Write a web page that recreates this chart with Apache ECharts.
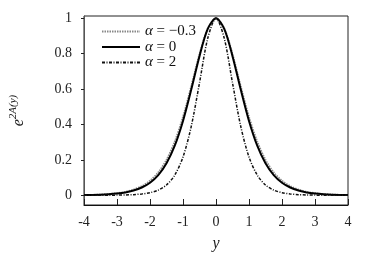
<!DOCTYPE html>
<html>
<head>
<meta charset="utf-8">
<script src="https://cdn.jsdelivr.net/npm/echarts@6/dist/echarts.min.js"></script>
<style>
html,body{margin:0;padding:0;background:#fff;}
#c{width:374px;height:257px;}
</style>
</head>
<body>
<div id="c"></div>
<script>
// sample positions along y
var yPos = [-4,-3.75,-3.5,-3.25,-3,-2.75,-2.5,-2.25,-2,-1.75,-1.5,-1.25,-1,-0.75,-0.5,-0.25,0,
            0.25,0.5,0.75,1,1.25,1.5,1.75,2,2.25,2.5,2.75,3,3.25,3.5,3.75,4];
// alpha = -0.3 (grey dotted)
var alphaM03 = [0.0019,0.003,0.0049,0.0078,0.0126,0.020,0.033,0.052,0.083,0.130,0.202,0.305,0.445,0.618,0.800,0.944,1,
                0.944,0.800,0.618,0.445,0.305,0.202,0.130,0.083,0.052,0.033,0.020,0.0126,0.0078,0.0049,0.003,0.0019];
// alpha = 0 (solid)
var alpha0 = [0.0013,0.0022,0.0036,0.006,0.0099,0.016,0.027,0.044,0.071,0.114,0.181,0.280,0.420,0.597,0.786,0.940,1,
              0.940,0.786,0.597,0.420,0.280,0.181,0.114,0.071,0.044,0.027,0.016,0.0099,0.006,0.0036,0.0022,0.0013];
// alpha = 2 (dash-dot)
var alpha2 = [0.00005,0.0001,0.0002,0.00045,0.0009,0.0018,0.0036,0.0073,0.0147,0.029,0.058,0.114,0.216,0.389,0.635,0.887,1,
              0.887,0.635,0.389,0.216,0.114,0.058,0.029,0.0147,0.0073,0.0036,0.0018,0.0009,0.00045,0.0002,0.0001,0.00005];
var xTicks = [-4,-3,-2,-1,0,1,2,3,4];
var yTicks = [0,0.2,0.4,0.6,0.8,1];
var seriesNames = ['\u03b1 = \u22120.3','\u03b1 = 0','\u03b1 = 2'];

function pairs(v){ return yPos.map(function(x,i){ return [x, v[i]]; }); }

var FONT = '"Liberation Serif", "DejaVu Serif", serif';
var chart = echarts.init(document.getElementById('c'), null, {renderer:'canvas'});
chart.setOption({
  animation: false,
  backgroundColor: '#fff',
  grid: {left: 80, right: 26, top: 16, bottom: 51, show: true, borderColor: '#222', borderWidth: 1, backgroundColor: 'transparent'},
  legend: {
    orient: 'vertical', left: 96, top: 19, itemWidth: 38, itemHeight: 14, itemGap: 0.5,
    itemStyle: {opacity: 0},
    textStyle: {fontFamily: FONT, fontSize: 15, color: '#111', lineHeight: 14,
      rich: {a: {fontFamily: FONT, fontStyle: 'italic', fontSize: 15, lineHeight: 14}}},
    formatter: function(n){ return '{a|\u03b1}' + n.slice(1); },
    data: seriesNames
  },
  xAxis: {
    type: 'value', min: -4, max: 4, interval: 1,
    name: 'y', nameLocation: 'middle', nameGap: 31,
    nameTextStyle: {fontFamily: FONT, fontStyle: 'italic', fontSize: 16, color: '#222'},
    axisLine: {show: true, onZero: false, lineStyle: {color: '#111', width: 1}},
    axisTick: {show: true, inside: true, length: 6, lineStyle: {color: '#222'}},
    axisLabel: {fontFamily: FONT, fontSize: 14, color: '#222', margin: 10,
      customValues: xTicks, formatter: function(v){ return String(v); }},
    splitLine: {show: false}
  },
  yAxis: {
    type: 'value', min: -0.055, max: 1.013,
    name: '{b|e}{s|2A(y)}', nameLocation: 'middle', nameGap: 55, nameRotate: 90,
    nameTextStyle: {fontFamily: FONT, color: '#222',
      rich: {b: {fontFamily: FONT, fontStyle: 'italic', fontSize: 16},
             s: {fontFamily: FONT, fontStyle: 'italic', fontSize: 11, padding: [0,0,10,0]}}},
    axisLine: {show: true, onZero: false, lineStyle: {color: '#555', width: 1}},
    axisTick: {show: true, inside: false, length: 3, customValues: yTicks, lineStyle: {color: '#222'}},
    axisLabel: {fontFamily: FONT, fontSize: 14, color: '#222', margin: 12,
      customValues: yTicks, formatter: function(v){ return String(v); }},
    splitLine: {show: false}
  },
  series: [
    {name: seriesNames[0], type: 'line', data: pairs(alphaM03), showSymbol: false, symbol: 'none', smooth: 0.3,
     lineStyle: {color: '#888', width: 1.6, type: [1.5,1]}, itemStyle: {color: '#888'}},
    {name: seriesNames[1], type: 'line', data: pairs(alpha0), showSymbol: false, symbol: 'none', smooth: 0.3,
     lineStyle: {color: '#000', width: 2, type: 'solid'}, itemStyle: {color: '#000'}},
    {name: seriesNames[2], type: 'line', data: pairs(alpha2), showSymbol: false, symbol: 'none', smooth: 0.3,
     lineStyle: {color: '#111', width: 1.5, type: [3,1.5,1,1.5]}, itemStyle: {color: '#111'}}
  ]
});
</script>
</body>
</html>
